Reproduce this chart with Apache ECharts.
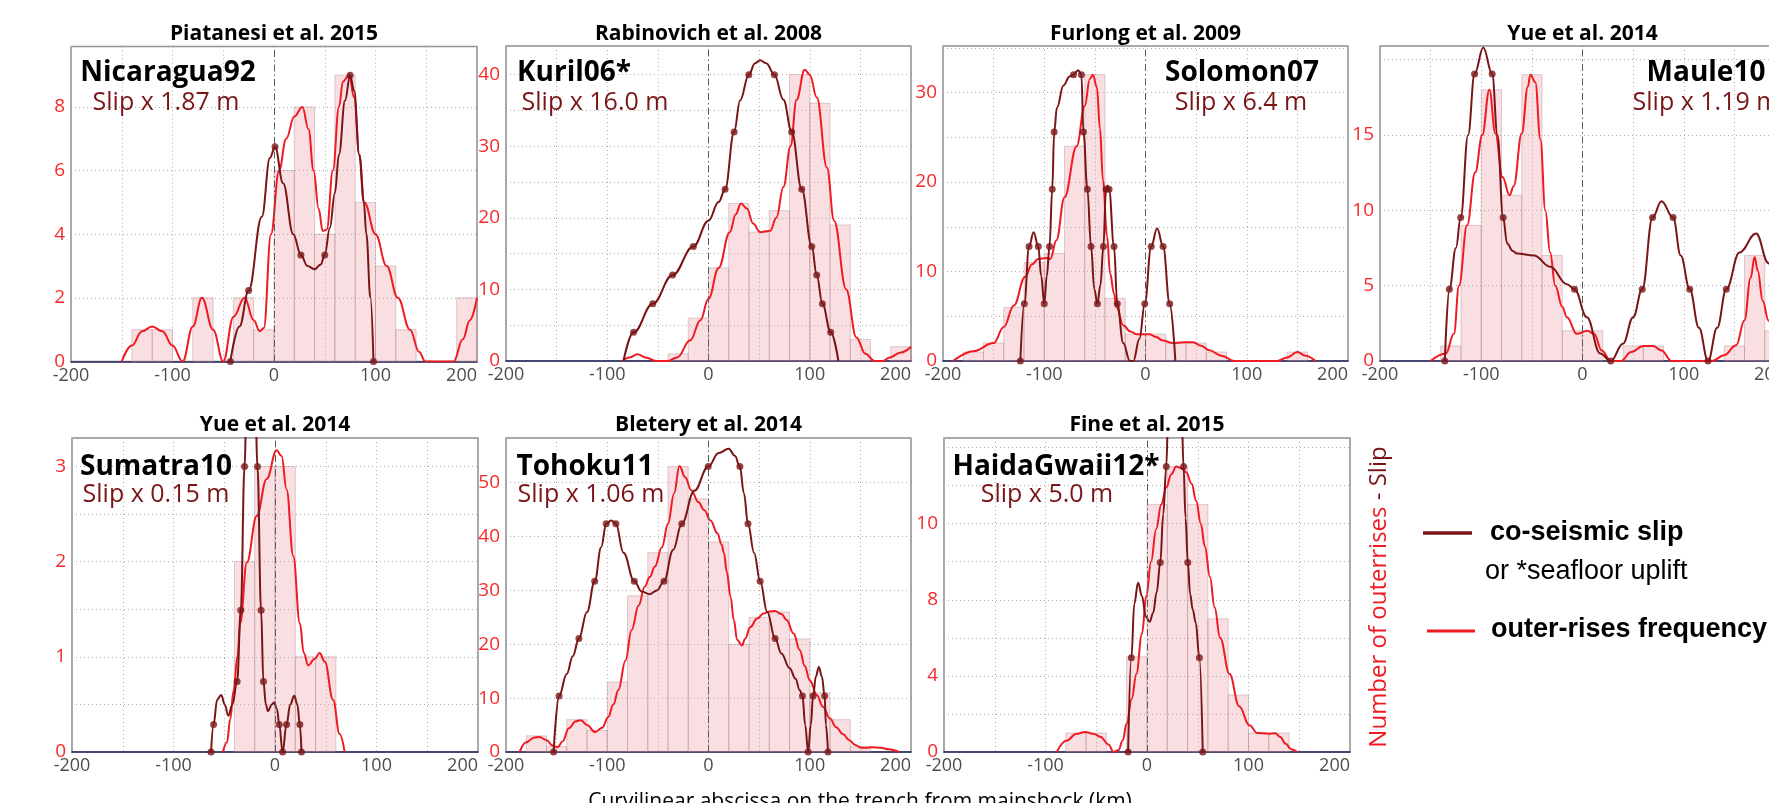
<!DOCTYPE html>
<html>
<head>
<meta charset="utf-8">
<title>Outer-rise frequency and co-seismic slip</title>
<script src="https://cdn.jsdelivr.net/npm/echarts@6.0.0/dist/echarts.min.js"></script>
<style>
  html, body { margin: 0; padding: 0; background: #fff; }
  #main { width: 1769px; height: 803px; }
</style>
</head>
<body>
<div id="main"></div>
<script>
// histogram bins: 20 km wide, first bin starts at -200 km
var binStart = -200;
var binWidth = 20;

// Nicaragua92
var nicCounts = [0, 0, 0, 1, 1, 0, 2, 0, 2, 1, 6, 8, 4, 9, 5, 3, 1, 0, 0, 2];
var nicFreq = [[-150, 0], [-140, 0.5], [-130, 0.95], [-120, 1.1], [-110, 0.95], [-100, 0.5], [-90, 0], [-80, 1.1], [-71, 2], [-60, 1.0], [-50, 0],
    [-40, 1.4], [-29, 2], [-20, 1.3], [-14, 0.95], [-10, 1.05], [-3, 4], [5, 6], [12, 7], [20, 7.7], [28, 8], [34, 7.3], [39, 6], [44, 4.8],
    [48, 4.1], [52, 4.15], [58, 6], [64, 8], [68, 8.8], [74, 9], [79, 8.3], [84, 6.5], [89, 5], [100, 4], [111, 3], [122, 2], [134, 1],
    [143, 0.3], [149, 0], [177, 0], [186, 0.7], [193, 1.3], [200, 2]];
var nicSlip = [[-43, 0], [-34, 1.1], [-25, 2.23], [-12, 4.55], [-4, 6.4], [1, 6.75], [9, 5.6], [19, 4.0], [26.5, 3.35], [33, 3.0], [40, 2.9],
    [46, 3.05], [50, 3.35], [55, 4.2], [60, 5.3], [64, 6.5], [70, 8.2], [75, 9], [79, 8.5], [84, 6.5], [88.5, 5], [91, 4], [95, 2], [98, 0]];
var nicDots = [[-43, 0], [-25, 2.23], [1, 6.75], [26.5, 3.35], [50, 3.35], [75, 9], [98, 0]];
var nicTicks = [0, 2, 4, 6, 8];

// Kuril06
var kurCounts = [0, 0, 0, 0, 0, 0, 0, 0, 1, 6, 13, 22, 18, 21, 40, 36, 19, 3, 0, 2];
var kurFreq = [[-85, 0], [-78, 0.5], [-70, 0.95], [-62, 0.5], [-52, 0], [-40, 0], [-31, 0.5], [-18, 2.9], [-8, 5.7], [0, 8.7], [10, 13],
    [21, 18], [27, 20.5], [32, 22], [38, 21.3], [44, 19.2], [51, 18], [61, 18.2], [67, 20], [74, 24.3], [81, 30], [87, 36.5], [95, 40.7],
    [100, 40], [107, 36.8], [117, 27], [124, 19.6], [136, 10], [146, 3.3], [155, 1], [164, 0], [172, 0], [179, 0.5], [190, 1.2], [200, 2]];
var kurSlip = [[-84, 0], [-74, 4], [-55, 8], [-35.5, 12], [-15, 16], [0, 19.6], [10, 22.2], [16.4, 24], [25.3, 32], [31.2, 36.4], [39.8, 40],
    [46, 41.6], [51, 42], [57, 41.6], [65.1, 40], [74, 36.5], [82.2, 32], [92.1, 24], [102, 16], [106.9, 12], [112.5, 8], [120.7, 4], [128.3, 0]];
var kurDots = [[-74, 4], [-55, 8], [-35.5, 12], [-15, 16], [16.4, 24], [25.3, 32], [39.8, 40], [65.1, 40], [82.2, 32], [92.1, 24],
    [102, 16], [106.9, 12], [112.5, 8], [120.7, 4]];
var kurTicks = [0, 10, 20, 30, 40];

// Solomon07
var solCounts = [0, 1, 2, 6, 11, 12, 24, 32, 7, 3, 3, 2, 2, 1, 0, 0, 0, 1, 0, 0];
var solFreq = [[-190, 0], [-170, 1.1], [-150, 2], [-140, 3.8], [-130, 6.2], [-119, 9.4], [-112, 10.8], [-106, 11.4], [-98, 11.5], [-94, 11.4],
    [-88, 13.5], [-80, 18.3], [-68, 24], [-60, 28.5], [-55, 31.5], [-52, 32], [-48, 30.6], [-45, 26], [-42, 20.2], [-38, 14], [-35, 9.8],
    [-31, 7.5], [-28.6, 6], [-22, 4], [-15, 3.3], [-9, 3], [0, 3], [4, 3], [10, 2.7], [17, 2.3], [27, 2], [38, 2.1], [47, 2.1], [55, 1.7],
    [63, 1.2], [75, 0.6], [88, 0], [130, 0], [140, 0.4], [150, 1], [158, 0.6], [168, 0]];
var solSlip = [[-123.6, 0], [-119.7, 6.4], [-115, 12.8], [-110.5, 14.4], [-105.9, 12.8], [-103, 9.5], [-100, 6.4], [-97.5, 9.5], [-94.8, 12.8],
    [-92.1, 19.2], [-90.2, 25.6], [-87.5, 28.3], [-81, 30.8], [-75, 31.8], [-71.1, 32], [-66.5, 32.5], [-63.3, 32], [-61.3, 25.6], [-57.4, 19.2],
    [-53.8, 12.8], [-50.5, 8], [-47.5, 6.4], [-44.5, 8.5], [-41.6, 12.8], [-39, 19.2], [-37.5, 19.6], [-36, 19.2], [-31.1, 12.8], [-27.9, 6.4],
    [-22, 2], [-15.4, 0], [-12, 0], [-6, 2.5], [-0.7, 6.4], [5.6, 12.8], [11.5, 14.8], [17.4, 12.8], [23.9, 6.4], [29.5, 0]];
var solDots = [[-123.6, 0], [-119.7, 6.4], [-115, 12.8], [-105.9, 12.8], [-100, 6.4], [-94.8, 12.8], [-92.1, 19.2], [-90.2, 25.6], [-71.1, 32],
    [-63.3, 32], [-61.3, 25.6], [-57.4, 19.2], [-53.8, 12.8], [-47.5, 6.4], [-41.6, 12.8], [-39, 19.2], [-36, 19.2], [-31.1, 12.8], [-27.9, 6.4],
    [-0.7, 6.4], [5.6, 12.8], [17.4, 12.8], [23.9, 6.4]];
var solTicks = [0, 10, 20, 30];

// Maule10
var mauCounts = [0, 0, 0, 1, 9, 18, 11, 19, 7, 2, 2, 0, 1, 1, 0, 0, 0, 1, 7, 2];
var mauFreq = [[-150, 0], [-135, 0.5], [-127, 1.8], [-122, 5], [-114, 9], [-106, 12.5], [-99, 15], [-92, 18], [-86, 15.1], [-79, 12.2],
    [-72, 11], [-68, 11.6], [-60, 15.1], [-54, 18.2], [-51.5, 19], [-46.6, 18.5], [-41.6, 14.7], [-36.7, 10], [-32, 7.2], [-26.9, 5],
    [-20, 3.6], [-15.4, 2.9], [-5.6, 1.8], [4.9, 2], [11.5, 1.8], [19, 0.7], [27.9, 0], [38, 0], [48, 0.6], [60, 1], [70, 1], [78, 0.7],
    [88, 0], [128, 0], [139.7, 0.38], [151.8, 1.04], [160, 2.7], [166, 5.5], [170, 6.9], [173, 6], [178, 4], [183.6, 2.7], [190, 1.2],
    [196, 0.4], [200, 0]];
var mauSlip = [[-136, 0], [-131.5, 4.76], [-125, 7.5], [-120.3, 9.52], [-113, 15], [-106.6, 19.04], [-98, 20.8], [-89.2, 19.04], [-84, 15],
    [-78.4, 9.52], [-74.4, 7.8], [-69, 7.3], [-64.6, 7.13], [-48, 7.0], [-31.8, 6.25], [-15.4, 5.1], [-7.9, 4.76], [4.3, 2.9], [17.4, 0.5],
    [27.9, 0], [40, 1.15], [50, 2.9], [59, 4.76], [69.2, 9.52], [78, 10.6], [89.5, 9.52], [97, 7], [105.9, 4.76], [115, 2.2], [124, 0],
    [133, 2.2], [142, 4.76], [155, 7.2], [171.5, 8.46], [183.6, 6.5], [192, 3.8], [200, 1.5]];
var mauDots = [[-136, 0], [-131.5, 4.76], [-120.3, 9.52], [-106.6, 19.04], [-89.2, 19.04], [-78.4, 9.52], [-7.9, 4.76], [27.9, 0],
    [59, 4.76], [69.2, 9.52], [89.5, 9.52], [105.9, 4.76], [124, 0], [142, 4.76]];
var mauTicks = [0, 5, 10, 15];

// Sumatra10
var sumCounts = [0, 0, 0, 0, 0, 0, 0, 0, 2, 3, 3, 1, 1, 0, 0, 0, 0, 0, 0, 0];
var sumFreq = [[-51.3, 0], [-47.4, 0.1], [-44, 0.35], [-40.8, 0.65], [-37, 1.0], [-34.3, 1.35], [-27.8, 1.99], [-18, 2.48], [-8.2, 2.87],
    [1.6, 3.17], [6.5, 3.11], [11.4, 2.76], [18, 2.06], [24.5, 1.35], [28.4, 1.04], [32.7, 0.91], [39.2, 0.98], [44, 1.04], [49, 0.95],
    [57.2, 0.55], [63.7, 0.19], [68.6, 0]];
var sumSlip = [[-63, 0], [-60.5, 0.29], [-57, 0.55], [-53, 0.6], [-49.5, 0.5], [-46, 0.38], [-42, 0.5], [-37.3, 0.74], [-33.7, 1.49],
    [-30, 3.0], [-27, 4.5], [-23.5, 5.0], [-20.5, 4.5], [-17.3, 3.0], [-13.7, 1.49], [-11.4, 0.74], [-9, 0.5], [-7, 0.43], [-3, 0.5],
    [-1, 0.52], [2, 0.45], [4.2, 0.29], [7.5, 0], [11.4, 0.29], [15, 0.5], [19, 0.59], [22, 0.5], [24.5, 0.29], [26.1, 0]];
var sumDots = [[-63, 0], [-60.5, 0.29], [-37.3, 0.74], [-33.7, 1.49], [-30, 3.0], [-17.3, 3.0], [-13.7, 1.49], [-11.4, 0.74], [4.2, 0.29],
    [7.5, 0], [11.4, 0.29], [24.5, 0.29], [26.1, 0]];
var sumTicks = [0, 1, 2, 3];

// Tohoku11
var tohCounts = [0, 3, 1, 6, 4, 13, 29, 37, 53, 47, 39, 20, 25, 26, 21, 11, 6, 1, 0, 0];
var tohFreq = [[-186.6, 0], [-180, 1.8], [-172, 2.7], [-167, 2.8], [-160, 2.2], [-154, 1.2], [-149, 0.9], [-144, 2], [-138, 4.4], [-131, 5.7],
    [-126, 5.9], [-120, 5], [-112, 3.7], [-105, 4.5], [-99, 6.5], [-94, 8.8], [-89, 11.5], [-82, 17], [-76, 22.6], [-69, 27.2], [-63, 30.7],
    [-58, 32.5], [-53, 34.4], [-46, 38], [-40, 42.4], [-34, 48], [-28.7, 53.1], [-23, 51], [-17, 48.6], [-10, 46.4], [-4.2, 44.9], [2, 43],
    [8.8, 40.6], [13, 38.5], [15.3, 36.9], [18, 33.5], [21.8, 28.8], [25, 24.5], [28.3, 20.8], [33.2, 19.8], [36, 21], [41.4, 23.2],
    [48, 24.8], [54.4, 25.7], [60, 26.1], [65.8, 26.2], [72, 25.6], [77.2, 24.5], [84, 22], [90.2, 18.9], [95, 16], [100, 13.3], [107, 10.6],
    [113, 8.4], [120, 6.2], [126, 4.6], [133, 3.3], [139, 2.2], [145, 1.3], [150.5, 0.8], [155, 0.8], [162, 0.9], [170, 0.8], [178, 0.5], [188, 0]];
var tohSlip = [[-153, 0], [-147.6, 10.4], [-140, 14.5], [-134, 17.8], [-128, 21.07], [-120, 26], [-112.4, 31.7], [-106, 38], [-101, 42.4],
    [-96, 43], [-91.5, 42.4], [-84, 37], [-73.3, 31.7], [-66, 29.8], [-58, 29.3], [-51, 30], [-44, 31.7], [-35, 37.5], [-26.4, 42.4],
    [-14, 48.5], [-0.3, 53], [10, 55.5], [20, 56.3], [26, 55], [31, 53], [35, 48], [39, 42.4], [45, 37], [51, 31.7], [58, 26], [65.8, 21.07],
    [72, 18.3], [80, 15.6], [86, 13.6], [90, 11.5], [92.8, 10.4], [95.5, 5], [98.4, 0], [101, 5], [103.3, 10.4], [106, 14], [109, 15.8],
    [112, 14], [114.7, 10.4], [116, 5], [118, 0]];
var tohDots = [[-153, 0], [-147.6, 10.4], [-128, 21.07], [-112.4, 31.7], [-101, 42.4], [-91.5, 42.4], [-73.3, 31.7], [-44, 31.7],
    [-26.4, 42.4], [-0.3, 53], [31, 53], [39, 42.4], [51, 31.7], [65.8, 21.07], [92.8, 10.4], [98.4, 0], [103.3, 10.4], [114.7, 10.4], [118, 0]];
var tohTicks = [0, 10, 20, 30, 40, 50];

// HaidaGwaii12 (tick labels as printed on the figure)
var haiCounts = [0, 0, 0, 0, 0, 0, 1, 1, 0, 5, 13, 15, 13, 7, 3, 1, 1, 0, 0, 0];
var haiFreq = [[-89, 0], [-79, 0.6], [-70, 0.95], [-61, 1.05], [-52, 0.95], [-46, 0.8], [-38, 0.4], [-33, 0], [-28, 0.1], [-24, 0.6],
    [-20, 1.5], [-15, 2.8], [-10.5, 4.1], [-5, 6.2], [-0.7, 8.2], [4, 10], [9, 11.7], [14, 13], [19, 13.9], [24, 14.6], [28.8, 15],
    [34, 14.9], [38.6, 14.7], [44, 14.1], [48.4, 13.2], [53, 12], [57, 10.8], [62, 9.2], [66.6, 7.6], [72, 6], [81.3, 4.1], [90.8, 2.4],
    [100.9, 1.4], [108.8, 1.0], [120, 0.96], [126.5, 0.98], [131, 0.8], [136.6, 0.44], [142, 0.15], [148, 0]];
var haiSlip = [[-18.6, 0], [-15.4, 4.95], [-12.5, 7.8], [-8.8, 8.9], [-5, 8.2], [-1, 7.1], [2.6, 6.84], [6, 7.3], [9.5, 8.4], [13.1, 9.96],
    [16, 12.5], [19, 15], [21, 18.1], [23.5, 20.8], [27.5, 22.5], [31.5, 20.8], [34, 18.1], [36, 15], [38, 12.3], [40.2, 9.96], [42.5, 8.3],
    [45, 7.5], [48, 6.8], [51.6, 4.95], [54.9, 0]];
var haiDots = [[-18.6, 0], [-15.4, 4.95], [13.1, 9.96], [19, 15], [36, 15], [40.2, 9.96], [51.6, 4.95], [54.9, 0]];
var haiTicks = [0, 4, 8, 12];
var haiTickText = ['0', '4', '8', '10'];

var RED = '#f01a22';
var DARK = '#7a1517';

var chart = echarts.init(document.getElementById('main'));

var panels = [
    {title: 'Piatanesi et al. 2015', name: 'Nicaragua92', slip: 'Slip x 1.87 m', counts: nicCounts, freq: nicFreq, line: nicSlip, dots: nicDots,
        ymax: 9.9, step: 2, ticks: nicTicks, box: [71, 46.5, 406, 315], nameAt: [168, 73], slipAt: [166, 103]},
    {title: 'Rabinovich et al. 2008', name: 'Kuril06*', slip: 'Slip x 16.0 m', counts: kurCounts, freq: kurFreq, line: kurSlip, dots: kurDots,
        ymax: 44, step: 5, ticks: kurTicks, box: [506, 46, 405, 315], nameAt: [574, 73], slipAt: [595, 103]},
    {title: 'Furlong et al. 2009', name: 'Solomon07', slip: 'Slip x 6.4 m', counts: solCounts, freq: solFreq, line: solSlip, dots: solDots,
        ymax: 35.2, step: 5, ticks: solTicks, box: [943, 46, 405, 315], nameAt: [1242, 73], slipAt: [1241, 103]},
    {title: 'Yue et al. 2014', name: 'Maule10', slip: 'Slip x 1.19 m', counts: mauCounts, freq: mauFreq, line: mauSlip, dots: mauDots,
        ymax: 20.9, step: 5, ticks: mauTicks, box: [1380, 46, 405, 315], nameAt: [1706, 73], slipAt: [1706, 103]},
    {title: 'Yue et al. 2014', name: 'Sumatra10', slip: 'Slip x 0.15 m', counts: sumCounts, freq: sumFreq, line: sumSlip, dots: sumDots,
        ymax: 3.3, step: 0.5, ticks: sumTicks, box: [72, 438, 406, 314], nameAt: [156, 467], slipAt: [156, 495]},
    {title: 'Bletery et al. 2014', name: 'Tohoku11', slip: 'Slip x 1.06 m', counts: tohCounts, freq: tohFreq, line: tohSlip, dots: tohDots,
        ymax: 58.3, step: 10, ticks: tohTicks, box: [506, 438, 405, 314], nameAt: [585, 467], slipAt: [591, 495]},
    {title: 'Fine et al. 2015', name: 'HaidaGwaii12*', slip: 'Slip x 5.0 m', counts: haiCounts, freq: haiFreq, line: haiSlip, dots: haiDots,
        ymax: 16.5, step: 2, ticks: haiTicks, tickText: haiTickText, box: [944, 438, 406, 314], nameAt: [1056, 467], slipAt: [1047, 495]}
];

function txt(x, y, text, font, fill, align) {
    return {
        type: 'text', x: x, y: y, z: 100, silent: true,
        style: {text: text, font: font, fill: fill, align: align || 'center', verticalAlign: 'middle'}
    };
}

var grids = [], xAxes = [], yAxes = [], series = [], graphics = [];

panels.forEach(function (p, i) {
    grids.push({
        left: p.box[0], top: p.box[1], width: p.box[2], height: p.box[3],
        show: true, borderColor: '#8c8c8c', borderWidth: 1.5, backgroundColor: '#fff',
        containLabel: false, outerBoundsMode: 'none'
    });
    xAxes.push({
        gridIndex: i, type: 'value', min: -200, max: 200, interval: 50,
        axisLine: {show: true, onZero: false, lineStyle: {color: '#262660', width: 1.5}},
        axisTick: {show: false},
        axisLabel: {
            color: '#4d4d4d', fontSize: 18, fontFamily: 'Open Sans', margin: 5,
            alignMaxLabel: 'right',
            formatter: function (v) { return v % 100 === 0 ? String(v) : ''; }
        },
        splitLine: {show: true, lineStyle: {color: ['#b0b0b0', '#b0b0b0', '#b0b0b0', '#b0b0b0', 'rgba(0,0,0,0)', '#b0b0b0', '#b0b0b0', '#b0b0b0', '#b0b0b0'], type: [1, 3], width: 1}}
    });
    yAxes.push({
        gridIndex: i, type: 'value', min: 0, max: p.ymax, interval: p.step,
        axisLine: {show: false}, axisTick: {show: false},
        axisLabel: {
            color: '#f52a2a', fontSize: 19, fontFamily: 'Open Sans', margin: 6,
            formatter: function (v) {
                for (var k = 0; k < p.ticks.length; k++) {
                    if (Math.abs(v - p.ticks[k]) < 1e-6) return p.tickText ? p.tickText[k] : String(p.ticks[k]);
                }
                return '';
            }
        },
        splitLine: {show: true, lineStyle: {color: '#b0b0b0', type: [1, 3], width: 1}}
    });

    var bins = [];
    p.counts.forEach(function (c, k) {
        if (c > 0) bins.push([binStart + k * binWidth, binStart + (k + 1) * binWidth, c]);
    });
    series.push({
        type: 'custom', xAxisIndex: i, yAxisIndex: i, data: bins, z: 2, silent: true,
        encode: {x: [0, 1], y: 2},
        renderItem: function (params, api) {
            var a = api.coord([api.value(0), api.value(2)]);
            var b = api.coord([api.value(1), 0]);
            return {
                type: 'rect',
                shape: {x: a[0], y: a[1], width: b[0] - a[0], height: b[1] - a[1]},
                style: {fill: 'rgba(238,150,160,0.3)', stroke: 'rgba(160,120,125,0.35)', lineWidth: 1}
            };
        },
        markLine: {
            silent: true, symbol: 'none', label: {show: false}, animation: false,
            lineStyle: {color: '#5a5a5a', type: [7, 3, 1.5, 3], width: 1},
            data: [{xAxis: 0}]
        }
    });
    series.push({
        type: 'line', xAxisIndex: i, yAxisIndex: i, data: p.freq, z: 3, silent: true,
        smooth: 0.4, smoothMonotone: 'x', showSymbol: false, clip: true,
        lineStyle: {color: RED, width: 2}
    });
    series.push({
        type: 'line', xAxisIndex: i, yAxisIndex: i, data: p.line, z: 4, silent: true,
        smooth: 0.4, smoothMonotone: 'x', showSymbol: false, clip: true,
        lineStyle: {color: DARK, width: 2}
    });
    series.push({
        type: 'scatter', xAxisIndex: i, yAxisIndex: i, data: p.dots, z: 5, silent: true,
        symbol: 'circle', symbolSize: 7, clip: true,
        itemStyle: {color: DARK}
    });

    var cx = p.box[0] + p.box[2] / 2;
    var ty = i < 4 ? 34 : 425;
    graphics.push(txt(cx, ty, p.title, 'bold 21px "Open Sans"', '#000'));
    graphics.push(txt(p.nameAt[0], p.nameAt[1], p.name, 'bold 28px "Open Sans"', '#000'));
    graphics.push(txt(p.slipAt[0], p.slipAt[1], p.slip, '25px "Open Sans"', DARK));
});

// shared axis titles
graphics.push({
    type: 'text', x: 1379, y: 597, rotation: Math.PI / 2, z: 100, silent: true,
    style: {
        text: '{a|Number of outerrises}{b| - Slip}',
        align: 'center', verticalAlign: 'middle',
        rich: {
            a: {fill: RED, font: '24px "Open Sans"'},
            b: {fill: DARK, font: '24px "Open Sans"'}
        }
    }
});
graphics.push(txt(860, 802, 'Curvilinear abscissa on the trench from mainshock (km)', '21px "Open Sans"', '#000'));

// legend
graphics.push({type: 'line', z: 100, silent: true, shape: {x1: 1423, y1: 533, x2: 1472, y2: 533}, style: {stroke: DARK, lineWidth: 3.5}});
graphics.push(txt(1490, 533, 'co-seismic slip', 'bold 27px "Liberation Sans"', '#000', 'left'));
graphics.push(txt(1485, 572, 'or *seafloor uplift', '27px "Liberation Sans"', '#000', 'left'));
graphics.push({type: 'line', z: 100, silent: true, shape: {x1: 1427, y1: 631, x2: 1475, y2: 631}, style: {stroke: RED, lineWidth: 3}});
graphics.push(txt(1491, 630, 'outer-rises frequency', 'bold 27px "Liberation Sans"', '#000', 'left'));

chart.setOption({
    animation: false,
    backgroundColor: '#fff',
    grid: grids,
    xAxis: xAxes,
    yAxis: yAxes,
    series: series,
    graphic: graphics
});
</script>
</body>
</html>
